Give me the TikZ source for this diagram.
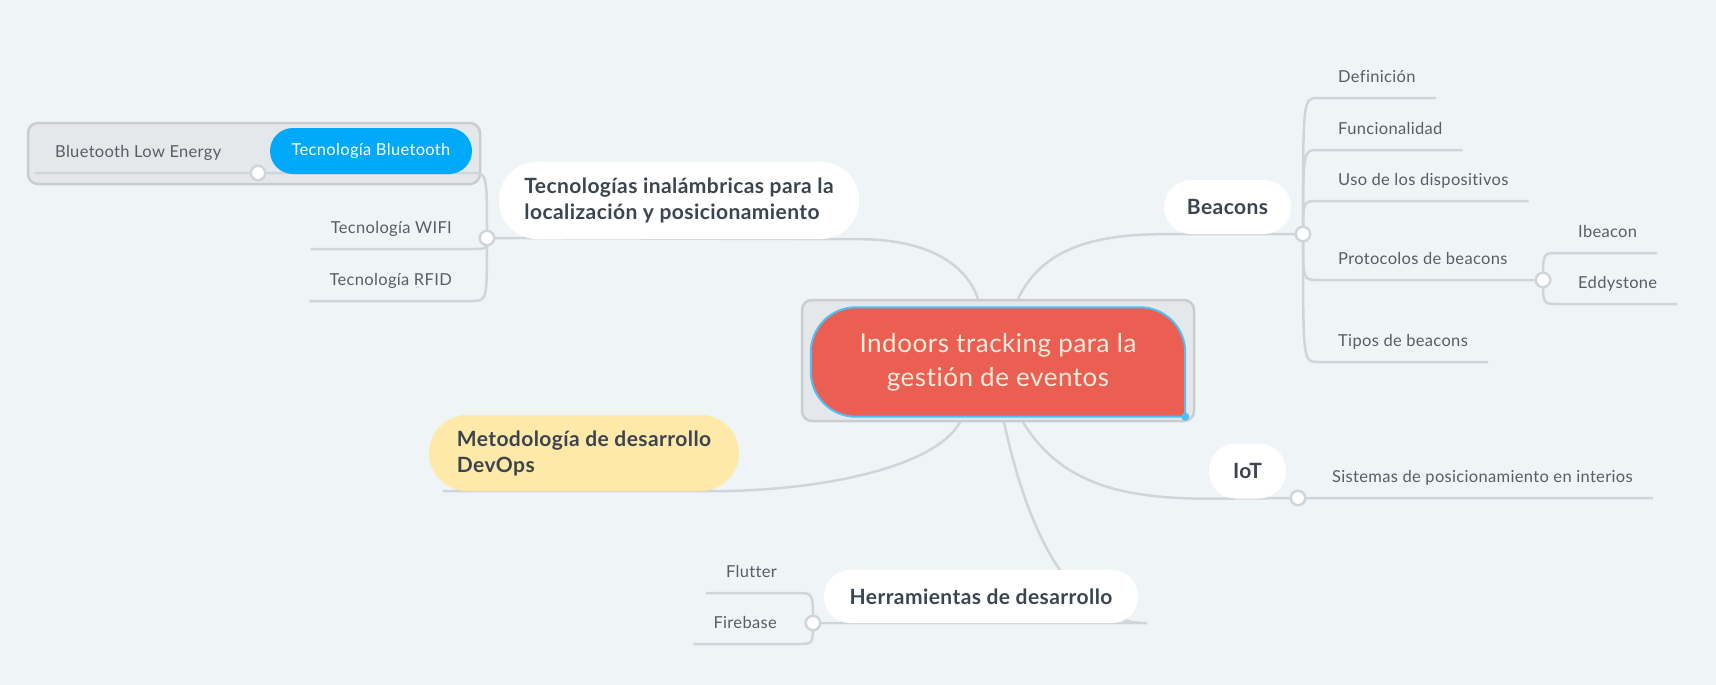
\documentclass[tikz,border=0pt]{standalone}
\usepackage{fontspec}
\setmainfont{Lato}[LetterSpace=2,Ligatures=NoCommon]
\usepackage{tikz}
\pgfdeclarelayer{background}
\pgfdeclarelayer{lines}
\pgfdeclarelayer{front}
\pgfsetlayers{background,lines,main,front}

\definecolor{bgcol}{RGB}{239,244,247}
\definecolor{linecol}{RGB}{207,213,217}
\definecolor{ink}{RGB}{59,69,79}
\definecolor{leafink}{RGB}{88,94,100}
\definecolor{rootred}{RGB}{235,95,82}
\definecolor{rootline}{RGB}{77,192,245}
\definecolor{roottext}{RGB}{254,236,220}
\definecolor{btblue}{RGB}{0,169,250}
\definecolor{devyellow}{RGB}{255,233,169}
\definecolor{boxfill}{RGB}{228,232,235}
\definecolor{boxline}{RGB}{201,205,208}

\tikzset{
  link/.style={draw=linecol, line width=2.5pt},
  knob/.style={circle, fill=white, draw=linecol, line width=2.5pt, minimum size=14.5pt, inner sep=0pt},
  leaf/.style={font=\fontsize{16.5}{20}\selectfont, text=leafink, inner xsep=20pt, inner ysep=0pt, text height=15pt, text depth=4pt, minimum height=42pt},
  topic/.style={fill=white, text=ink, font=\fontsize{21}{26}\selectfont\bfseries, align=left, inner sep=0pt},
  frame/.style={fill=boxfill, draw=boxline, line width=2.5pt, rounded corners=10pt, inner sep=0pt},
}

\begin{document}
\begin{tikzpicture}[x=1pt,y=-1pt]
\begin{pgfonlayer}{background}
\fill[bgcol] (0,0) rectangle (1716,685);
\node[frame, minimum width=452pt, minimum height=61pt] (grp) at (254,153.5) {};
\end{pgfonlayer}

\node[frame, minimum width=392pt, minimum height=121pt] (cen) at (998,360.5) {};
\begin{pgfonlayer}{front}
\node[font=\fontsize{26}{34}\selectfont, text=roottext, align=center, minimum width=374pt, minimum height=109pt, inner sep=0pt] (root) at (998,362) {Indoors tracking para la\\gestión de eventos};
\end{pgfonlayer}
\draw[fill=rootred, draw=rootline, line width=2pt] (root.south east) -- ([yshift=-45pt]root.north east) arc[start angle=0, end angle=90, radius=45pt] -- ([xshift=45pt]root.north west) arc[start angle=90, end angle=180, radius=45pt] -- ([yshift=45pt]root.south west) arc[start angle=180, end angle=270, radius=45pt] -- cycle;
\fill[rootline] (root.south east) circle (4pt);

\node[topic, minimum width=360pt, minimum height=77pt, rounded corners=38pt] (tek) at (679,200.5) {Tecnologías inalámbricas para la\\localización y posicionamiento};
\node[topic, fill=devyellow, minimum width=310pt, minimum height=76pt, rounded corners=38pt] (met) at (584,453) {Metodología de desarrollo\\DevOps};
\node[topic, minimum width=314pt, minimum height=53pt, rounded corners=26pt] (her) at (981,596.5) {Herramientas de desarrollo};
\node[topic, minimum width=127pt, minimum height=54pt, rounded corners=27pt] (bea) at (1227.5,207) {Beacons};
\node[topic, minimum width=77pt, minimum height=55pt, rounded corners=27pt] (iot) at (1247.5,471) {IoT};
\node[topic, fill=btblue, text=white, font=\fontsize{16.5}{20}\selectfont, minimum width=202pt, minimum height=46pt, rounded corners=23pt] (btt) at (371,151) {Tecnología Bluetooth};

\node[knob] (tk) at (487,238) {};
\node[knob] (kbt) at (258,173) {};
\node[knob] (kb) at (1303,234) {};
\node[knob] (kp) at (1543,280) {};
\node[knob] (ki) at (1298,498) {};
\node[knob] (kh) at (813,623) {};

\node[leaf, anchor=south west] (ble) at (35,173) {Bluetooth Low Energy};
\node[leaf, anchor=south east] (wifi) at (472,249) {Tecnología WIFI};
\node[leaf, anchor=south east] (rfid) at (472,301) {Tecnología RFID};
\node[leaf, anchor=south east] (flu) at (797,593) {Flutter};
\node[leaf, anchor=south east] (fir) at (797,644) {Firebase};
\node[leaf, anchor=south west] (def) at (1318,98) {Definición};
\node[leaf, anchor=south west] (fun) at (1318,150) {Funcionalidad};
\node[leaf, anchor=south west] (uso) at (1318,201) {Uso de los dispositivos};
\node[leaf, anchor=south west] (pro) at (1318,280) {Protocolos de beacons};
\node[leaf, anchor=south west] (tip) at (1318,362) {Tipos de beacons};
\node[leaf, anchor=south west] (ibe) at (1558,253) {Ibeacon};
\node[leaf, anchor=south west] (edd) at (1558,304) {Eddystone};
\node[leaf, anchor=south west] (sis) at (1312,498) {Sistemas de posicionamiento en interios};

\begin{pgfonlayer}{lines}
\draw[link] ([xshift=-20pt]cen.north) .. controls +(-14,-40) and +(60,0) .. (tek.south east) -- (tk.center);
\draw[link] (tk.center) .. controls (tk |- kbt) .. (wifi.south east |- kbt) -- (ble.south west);
\draw[link] (tk.center) .. controls (tk |- wifi.south) .. (wifi.south east) -- (wifi.south west);
\draw[link] (tk.center) .. controls (tk |- rfid.south) .. (rfid.south east) -- (rfid.south west);

\draw[link] ([xshift=20pt]cen.north) .. controls +(22,-45) and +(-80,0) .. (bea.south west) -- (kb.center);
\draw[link] (kb.center) .. controls (kb |- def.south) .. (def.south west) -- (def.south east);
\draw[link] (kb.center) .. controls (kb |- fun.south) .. (fun.south west) -- (fun.south east);
\draw[link] (kb.center) .. controls (kb |- uso.south) .. (uso.south west) -- (uso.south east);
\draw[link] (kb.center) .. controls (kb |- pro.south) .. (pro.south west) -- (kp.center);
\draw[link] (kb.center) .. controls (kb |- tip.south) .. (tip.south west) -- (tip.south east);
\draw[link] (kp.center) .. controls (kp |- ibe.south) .. (ibe.south west) -- (ibe.south east);
\draw[link] (kp.center) .. controls (kp |- edd.south) .. (edd.south west) -- (edd.south east);

\draw[link] ([xshift=-38pt]cen.south) .. controls +(-25,45) and +(110,0) .. ([xshift=-28pt]met.south east) -- ([xshift=14pt]met.south west);

\draw[link] ([xshift=6pt]cen.south) .. controls +(26,120) and +(-72,0) .. ([xshift=9pt]her.south east) -- (kh.center);
\draw[link] (kh.center) .. controls (kh |- flu.south) .. (flu.south east) -- (flu.south west);
\draw[link] (kh.center) .. controls (kh |- fir.south) .. (fir.south east) -- (fir.south west);

\draw[link] ([xshift=25pt]cen.south) .. controls +(37,60) and +(-90,0) .. (iot.south west) -- (ki.center) -- (sis.south east);
\end{pgfonlayer}
\end{tikzpicture}
\end{document}
